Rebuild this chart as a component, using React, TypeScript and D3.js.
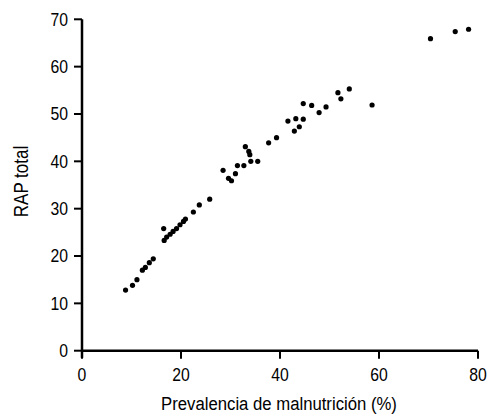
import React from 'react';
import * as d3 from 'd3';

// prevalencia de malnutrición (%) vs RAP total
const prevalencia = [
  8.8, 10.2, 11.1, 12.2, 12.8, 13.6, 14.4, 16.6, 16.5, 17.1, 17.8, 18.4, 19.1, 19.8, 20.5, 20.9,
  22.5, 23.7, 25.8, 28.5, 29.6, 30.2, 31.0, 31.4, 32.7, 33.0, 33.7, 33.9, 34.1, 35.5, 37.7, 39.3,
  41.6, 43.2, 43.9, 42.9, 44.7, 44.7, 46.4, 47.9, 49.3, 51.7, 52.3, 54.0, 58.6, 70.4, 75.4, 78.1,
];
const rap = [
  12.8, 13.8, 15.0, 17.0, 17.6, 18.6, 19.4, 23.3, 25.8, 24.0, 24.6, 25.2, 25.8, 26.6, 27.3, 27.8,
  29.3, 30.8, 32.0, 38.1, 36.4, 35.9, 37.4, 39.1, 39.1, 43.1, 42.1, 41.4, 40.0, 40.0, 43.9, 45.0,
  48.5, 49.0, 47.3, 46.4, 48.9, 52.2, 51.8, 50.3, 51.5, 54.5, 53.2, 55.3, 51.9, 65.9, 67.4, 67.9,
];
const xTicks = [0, 20, 40, 60, 80];
const yTicks = [0, 10, 20, 30, 40, 50, 60, 70];

const W = 487;
const H = 416;
const font = '"Liberation Sans Narrow", "Liberation Sans", Arial, sans-serif';

// condensed text, narrow font isn't available so squeeze horizontally
const Narrow = ({ x, y, size, anchor, sx = 0.88, rotate = 0, dy, children }: any) => (
  <g transform={`translate(${x},${y}) rotate(${rotate}) scale(${sx},1)`}>
    <text textAnchor={anchor} fontFamily={font} fontSize={size} dy={dy} fill="#000">
      {children}
    </text>
  </g>
);

export default function App() {
  const x = d3.scaleLinear().domain([0, 80]).range([82, 478]);
  const y = d3.scaleLinear().domain([0, 70]).range([350.7, 19.3]);
  const x0 = x(0);
  const y0 = y(0);

  return (
    <svg width={W} height={H} style={{ position: 'absolute', left: 0, top: 0, background: '#fff' }}>
      {/* axes */}
      <line x1={x0} x2={x0} y1={y(70)} y2={y0 + 7} stroke="#000" strokeWidth={2.5} />
      <line x1={x0 - 1} x2={x(80)} y1={y0} y2={y0} stroke="#000" strokeWidth={2.5} />
      {yTicks.map((t) => (
        <g key={'y' + t}>
          <line x1={x0 - 8} x2={x0} y1={y(t)} y2={y(t)} stroke="#000" strokeWidth={2} />
          <Narrow x={x0 - 14} y={y(t) + 6.3} size={17.5} anchor="end" sx={0.9}>
            {t}
          </Narrow>
        </g>
      ))}
      {xTicks.map((t) => (
        <g key={'x' + t}>
          <line x1={x(t)} x2={x(t)} y1={y0} y2={y0 + 8} stroke="#000" strokeWidth={2} />
          <Narrow x={x(t)} y={381} size={17.5} anchor="middle" sx={0.9}>
            {t}
          </Narrow>
        </g>
      ))}
      <Narrow x={279} y={410} size={19} anchor="middle" sx={0.88}>
        Prevalencia de malnutrición (%)
      </Narrow>
      <Narrow x={28} y={181.5} size={20} anchor="middle" sx={0.85} rotate={-90}>
        RAP total
      </Narrow>
      {/* points */}
      {prevalencia.map((v, i) => (
        <circle key={i} cx={x(v)} cy={y(rap[i])} r={2.6} fill="#000" />
      ))}
    </svg>
  );
}
